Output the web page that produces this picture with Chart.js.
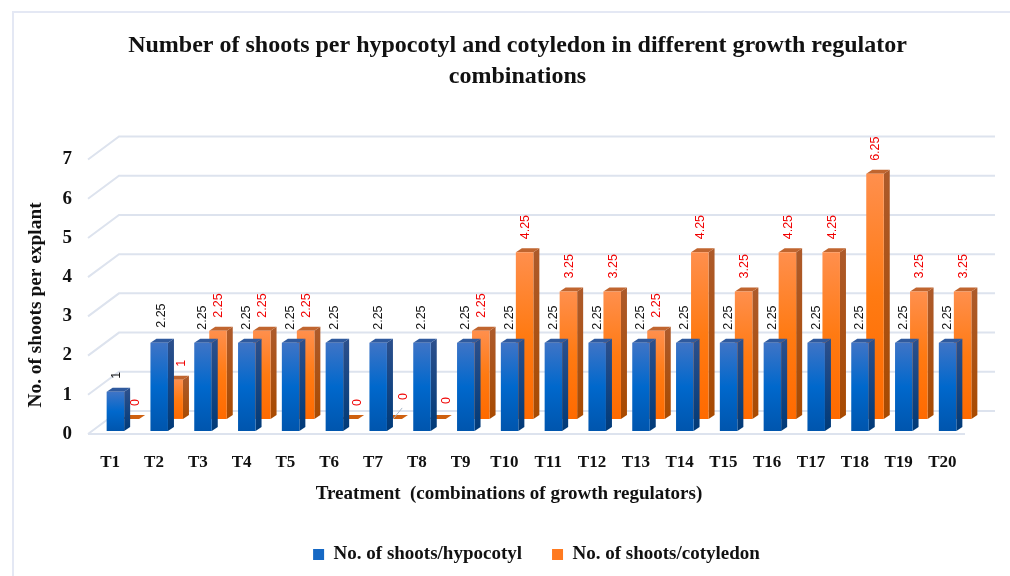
<!DOCTYPE html>
<html>
<head>
<meta charset="utf-8">
<style>
html,body{margin:0;padding:0;background:#fff}
#wrap{width:1010px;height:576px;position:relative}
</style>
<script src="https://cdn.jsdelivr.net/npm/chart.js@4"></script>
</head>
<body>
<div id="wrap"><canvas id="chart" width="1010" height="576"></canvas></div>
<script>
const categories=["T1","T2","T3","T4","T5","T6","T7","T8","T9","T10","T11","T12","T13","T14","T15","T16","T17","T18","T19","T20"]
const hypocotyl=[1,2.25,2.25,2.25,2.25,2.25,2.25,2.25,2.25,2.25,2.25,2.25,2.25,2.25,2.25,2.25,2.25,2.25,2.25,2.25]
const cotyledon=[0,1,2.25,2.25,2.25,0,0,0,2.25,4.25,3.25,3.25,2.25,4.25,3.25,4.25,4.25,6.25,3.25,3.25]
const yTicks=[0,1,2,3,4,5,6,7]

const serif='"Liberation Serif",serif'
const pxPerUnit=39
const backShift=12
const depthX=6,depthY=4

// hand placed labels in the original
const labelNudge={
  0:{0:[1,0],1:[2,-2]},
  1:{0:[4,0],1:[6.5,0],5:[7,0],6:[9,-6],7:[9,-2]}
}

function barGradient(c,stops,scaleId){
  let chart=c.chart
  let s=chart.scales[scaleId]
  let v=c.parsed?c.parsed.y:0
  let g=chart.ctx.createLinearGradient(0,s.getPixelForValue(v),0,s.getPixelForValue(0))
  g.addColorStop(0,stops[0])
  g.addColorStop(0.5,stops[1])
  g.addColorStop(1,stops[2])
  return g
}

const faces={
  0:{side:["#2a4f8c","#003a78"],top:"#2f5a9e",label:"#111"},
  1:{side:["#ad5a2a","#a84a00"],top:"#c0652f",flat:"#cf600f",label:"#f00000"}
}

const depth3d={
  id:"depth3d",
  afterLayout(chart){
    // the original centres these off the plot
    chart.legend.left+=36
    chart.legend.right+=36
    chart.titleBlock.left+=17
    chart.titleBlock.right+=17
    chart.scales.x.right-=60
    chart.scales.y.bottom+=42
  },
  beforeDraw(chart){
    let ctx=chart.ctx
    ctx.save()
    ctx.strokeStyle="#e4e8f4"
    ctx.lineWidth=2
    ctx.beginPath()
    ctx.moveTo(1010,12)
    ctx.lineTo(13,12)
    ctx.lineTo(13,576)
    ctx.stroke()
    ctx.restore()
  },
  beforeDatasetsDraw(chart){
    let ctx=chart.ctx
    let y=chart.scales.y
    ctx.save()
    ctx.strokeStyle="#dde3ee"
    ctx.lineWidth=2
    yTicks.forEach(v=>{
      let back=y.getPixelForValue(v)-20
      let front=y.getPixelForValue(v)+3
      ctx.beginPath()
      ctx.moveTo(88,front)
      ctx.lineTo(119,back)
      ctx.lineTo(995,back)
      ctx.stroke()
    })
    let f=y.getPixelForValue(0)+3
    ctx.beginPath()
    ctx.moveTo(88,f)
    ctx.lineTo(965,f)
    ctx.stroke()
    ctx.restore()
  },
  beforeDatasetDraw(chart,args){
    let ctx=chart.ctx
    let f=faces[args.index]
    args.meta.data.forEach(bar=>{
      let p=bar.getProps(["x","y","base","width"],true)
      let r=p.x+p.width/2
      let l=p.x-p.width/2
      let sg=ctx.createLinearGradient(0,p.y,0,p.base)
      sg.addColorStop(0,f.side[0])
      sg.addColorStop(1,f.side[1])
      ctx.fillStyle=sg
      ctx.beginPath()
      ctx.moveTo(r,p.y)
      ctx.lineTo(r+depthX,p.y-depthY)
      ctx.lineTo(r+depthX,p.base-depthY)
      ctx.lineTo(r,p.base)
      ctx.closePath()
      ctx.fill()
      ctx.fillStyle=(p.y==p.base&&f.flat)?f.flat:f.top
      ctx.beginPath()
      ctx.moveTo(l,p.y)
      ctx.lineTo(l+depthX,p.y-depthY)
      ctx.lineTo(r+depthX,p.y-depthY)
      ctx.lineTo(r,p.y)
      ctx.closePath()
      ctx.fill()
    })
  },
  afterDatasetsDraw(chart){
    let ctx=chart.ctx
    ctx.save()
    ctx.font='12.5px "Liberation Sans",sans-serif'
    ctx.textAlign="left"
    ctx.textBaseline="middle"
    chart.data.datasets.forEach((ds,di)=>{
      chart.getDatasetMeta(di).data.forEach((bar,i)=>{
        let n=(labelNudge[di]&&labelNudge[di][i])||[0,0]
        ctx.save()
        ctx.translate(bar.x+1+n[0]-(di==0?1:0),bar.y-depthY-9+n[1])
        ctx.rotate(-Math.PI/2)
        ctx.fillStyle=faces[di].label
        ctx.fillText(String(ds.data[i]),0,0)
        ctx.restore()
      })
    })
    // leader line of the moved T7 label
    let b=chart.getDatasetMeta(1).data[6]
    ctx.strokeStyle="#a9b8c8"
    ctx.lineWidth=1
    ctx.beginPath()
    ctx.moveTo(b.x,b.y)
    ctx.lineTo(b.x+9,b.y-11)
    ctx.stroke()
    ctx.restore()
  }
}

const yMax=7.5
new Chart(document.getElementById("chart"),{
  type:"bar",
  plugins:[depth3d],
  data:{
    labels:categories,
    datasets:[
      {label:"No. of shoots/hypocotyl",data:hypocotyl,yAxisID:"y",clip:false,
       backgroundColor:c=>barGradient(c,["#3f74c6","#0068cc","#0055ad"],"y")},
      {label:"No. of shoots/cotyledon",data:cotyledon,yAxisID:"y2",clip:false,
       backgroundColor:c=>barGradient(c,["#ff8f4d","#ff7a12","#ff6a00"],"y2")}
    ]
  },
  options:{
    responsive:false,
    animation:false,
    categoryPercentage:0.685,
    barPercentage:1.167,
    layout:{padding:{left:24,right:33,top:0,bottom:2}},
    scales:{
      x:{
        afterFit(s){s.height=84},
        grid:{display:false},
        border:{display:false},
        ticks:{color:"#111",font:{family:serif,size:17,weight:"bold"},labelOffset:-12.7,padding:13,maxRotation:0,autoSkip:false},
        title:{display:true,text:"Treatment  (combinations of growth regulators)",color:"#111",font:{family:serif,size:19,weight:"bold"},padding:{top:0,bottom:10}}
      },
      y:{
        min:0,max:yMax,
        afterBuildTicks(s){s.ticks=yTicks.map(v=>({value:v}))},
        afterFit(s){s.width=77},
        grid:{display:false},
        border:{display:false},
        ticks:{color:"#111",font:{family:serif,size:19,weight:"bold"},padding:21,labelOffset:3},
        title:{display:true,text:"No. of shoots per explant",color:"#111",font:{family:serif,size:19.4,weight:"bold"},padding:0}
      },
      y2:{
        display:false,
        min:-backShift/pxPerUnit,max:yMax-backShift/pxPerUnit
      }
    },
    plugins:{
      title:{display:true,text:["Number of shoots per hypocotyl and cotyledon in different growth regulator","combinations"],color:"#111",
        font:{family:serif,size:24,weight:"bold",lineHeight:1.29},padding:{top:30,bottom:45}},
      tooltip:{enabled:false},
      legend:{
        position:"bottom",
        labels:{
          color:"#111",font:{family:serif,size:19,weight:"bold"},boxWidth:11,boxHeight:11,padding:30,
          generateLabels(chart){
            return [["#1568c4"],["#ff7a1f"]].map((c,i)=>({
              text:chart.data.datasets[i].label,fillStyle:c[0],strokeStyle:c[0],lineWidth:0,datasetIndex:i,fontColor:"#111"
            }))
          }
        }
      }
    }
  }
})
</script>
</body>
</html>
